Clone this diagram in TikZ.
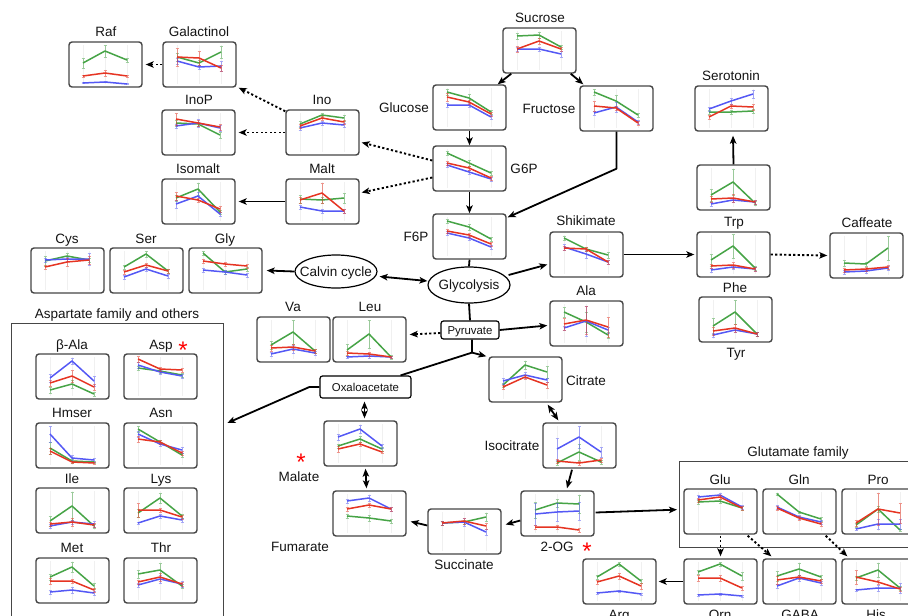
\documentclass[tikz,border=0pt]{standalone}
\usepackage{fontspec}
\setmainfont{Liberation Sans}
\usetikzlibrary{arrows.meta,shapes.geometric,calc}
\definecolor{gC}{RGB}{70,164,70}
\definecolor{rC}{RGB}{230,52,34}
\definecolor{bC}{RGB}{84,88,245}
\definecolor{frameC}{RGB}{70,70,70}
\definecolor{txtC}{RGB}{20,20,20}
\tikzset{
 pbx/.style={draw=frameC, line width=1.4pt, rounded corners=3pt, minimum width=73pt, minimum height=45pt, inner sep=0pt, fill=white},
 gridl/.style={draw=black!6, line width=0.8pt},
 serline/.style={line width=1.5pt, line join=round},
 errb/.style={line width=0.9pt, opacity=0.5},
 lbl/.style={font=\fontsize{13.5}{16}\selectfont, text=txtC, inner sep=0pt, text height=9.6pt, text depth=0pt},
 slbl/.style={font=\fontsize{11.4}{13}\selectfont, text=txtC, inner sep=0pt, text height=8.2pt, text depth=0pt},
 arr/.style={-{Stealth[length=8pt,width=6.5pt,inset=2pt]}, line width=1.8pt, black},
 darr/.style={{Stealth[length=8pt,width=6.5pt,inset=2pt]}-{Stealth[length=8pt,width=6.5pt,inset=2pt]}, line width=1.8pt, black},
 dotarr/.style={-{Stealth[length=8pt,width=6.5pt,inset=2pt]}, line width=1.9pt, black, dash pattern=on 2.2pt off 2.3pt},
 pl/.style={line width=1.8pt, black},
 ell/.style={lbl, ellipse, draw=black, line width=1.2pt, fill=white, inner xsep=-20pt, inner ysep=0pt},
 sbx/.style={slbl, draw=black, line width=1.2pt, rounded corners=2.5pt, fill=white},
 grp/.style={draw=frameC, line width=1.3pt, inner sep=0pt},
 ast/.style={text=red, font=\fontsize{24}{24}\selectfont, inner sep=0pt, anchor=base}
}
\newcommand\mplot[4]{%
  \node[pbx] (#1) at ({#2+36.5},{#3+22.5}) {};
  \begin{scope}[shift={(#2,#3)}]
    \foreach \gx in {14,36,58}{\draw[gridl] (\gx,3) -- (\gx,42);}
    #4
  \end{scope}}
\def\ser#1#2,#3,#4,#5,#6,#7;{%
  \draw[#1,errb] (14,#2-#3)--(14,#2+#3) (12.5,#2-#3)--(15.5,#2-#3) (12.5,#2+#3)--(15.5,#2+#3)
   (36,#4-#5)--(36,#4+#5) (34.5,#4-#5)--(37.5,#4-#5) (34.5,#4+#5)--(37.5,#4+#5)
   (58,#6-#7)--(58,#6+#7) (56.5,#6-#7)--(59.5,#6-#7) (56.5,#6+#7)--(59.5,#6+#7);
  \draw[#1,serline] (14,#2)--(36,#4)--(58,#6);}
\def\sG{\ser{gC}}
\def\sR{\ser{rC}}
\def\sB{\ser{bC}}
\begin{document}
\begin{tikzpicture}[x=1pt,y=-1pt]
\useasboundingbox (0,0) rectangle (908,616);
\fill[white] (0,0) rectangle (908,616);
% group boxes
\node[grp, minimum width=212pt, minimum height=307pt, anchor=north west] (aspgrp) at (11,323) {};
\node[grp, minimum width=246pt, minimum height=86pt, anchor=north west] (glugrp) at (679,461) {};
% plots
\mplot{raf}{69}{42}{\sG 21,5,9,6,18,2; \sB 41,0.5,40,0.5,42,0.5; \sR 34,1,31,3,34,1;}
\mplot{galactinol}{163}{42}{\sG 15,4,21,3,10,6; \sB 19,3,25,2,24,5; \sR 15,9,16,7,26,3;}
\mplot{inop}{162}{110}{\sG 13,3,14,2,25,3; \sB 16,2,13,4,18,3; \sR 9,6,13,3,17,3;}
\mplot{ino}{286}{110}{\sG 14,3,5,2,8,3; \sB 18,2,13,2,15,2; \sR 16,2,8,2,12,2;}
\mplot{isomalt}{162}{179}{\sG 19,3,10,6,33,2; \sB 25,4,17,4,35,2; \sR 17,4,21,2,30,3;}
\mplot{malt}{286}{179}{\sG 20,4,21,3,19,5; \sB 28,2,32,2,32,2; \sR 21,3,14,10,32,2;}
\mplot{sucrose}{503}{28}{\sG 8,3,7,3,19,2; \sB 21,2,21,2,26,3; \sR 21,3,13,3,21,2;}
\mplot{glucose}{433}{85}{\sG 7,3,13,4,27,2; \sB 20,2,20,2,32,2; \sR 12,4,17,2,29,2;}
\mplot{g6p}{433}{146}{\sG 7,2,17,3,27,2; \sB 19,2,26,2,33,2; \sR 17,2,22,2,32,2;}
\mplot{fructose}{580}{86}{\sG 6,3,15,6,29,2; \sB 27,2,21,5,36,2; \sR 20,5,22,2,37,2;}
\mplot{serotonin}{695}{86}{\sG 26,2,26,2,25,2; \sB 23,2,15,3,8,4; \sR 31,2,20,2,21,3;}
\mplot{trp}{697}{165}{\sG 30,6,17,13,38,2; \sB 39,2,35,2,37,2; \sR 34,3,33,4,37,2;}
\mplot{f6p}{433}{214}{\sG 7,2,13,3,25,2; \sB 19,2,24,2,33,2; \sR 17,2,21,2,30,2;}
\mplot{shikimate}{550}{232}{\sG 6,2,17,2,23,3; \sB 15,3,22,4,30,2; \sR 16,2,17,2,30,2;}
\mplot{phe}{697}{232}{\sG 28,6,14,12,36,2; \sB 38,2,35,2,37,2; \sR 34,2,33,3,37,2;}
\mplot{caffeate}{830}{233}{\sG 30,3,31,2,15,12; \sB 39,2,38,2,35,2; \sR 37,2,36,2,34,2;}
\mplot{ala}{550}{301}{\sG 11,5,21,10,34,3; \sB 27,2,20,15,29,3; \sR 23,6,19,14,26,10;}
\mplot{tyr}{699}{297}{\sG 29,8,15,12,37,2; \sB 38,2,33,2,37,2; \sR 34,4,31,4,37,2;}
\mplot{citrate}{489}{357}{\sG 28,2,8,4,15,6; \sB 24,3,18,3,23,2; \sR 30,2,20,2,28,3;}
\mplot{cys}{31}{248}{\sG 13,5,8,3,12,2; \sB 12,2,11,2,11,6; \sR 19,2,14,4,12,4;}
\mplot{ser}{110}{248}{\sG 19,2,6,3,23,2; \sB 29,2,21,2,28,2; \sR 24,2,17,2,23,2;}
\mplot{gly}{189}{248}{\sG 5,2,24,2,21,2; \sB 22,2,24,2,27,2; \sR 13,2,16,2,18,2;}
\mplot{va}{257}{317}{\sG 28,4,15,12,34,2; \sB 37,2,32,4,36,2; \sR 31,3,30,3,34,2;}
\mplot{leu}{333}{317}{\sG 33,6,17,14,40,2; \sB 40,1,39,2,40,1; \sR 36,2,37,2,40,1;}
\mplot{bala}{36}{354}{\sG 36,3,30,4,40,2; \sB 24,4,7,3,27,5; \sR 29,3,22,6,33,3;}
\mplot{asp}{124}{354}{\sG 14,2,17,2,21,2; \sB 11,3,18,2,22,2; \sR 5,3,15,2,16,2;}
\mplot{hmser}{36}{423}{\sG 25,6,38,2,39,1; \sB 11,8,35,3,37,2; \sR 28,3,39,1,40,1;}
\mplot{asn}{124}{423}{\sG 6,3,19,2,32,2; \sB 11,3,21,2,27,3; \sR 16,3,19,2,30,2;}
\mplot{ile}{36}{488}{\sG 33,5,18,14,38,2; \sB 38,2,34,2,36,3; \sR 36,2,34,4,37,2;}
\mplot{lys}{124}{488}{\sG 25,4,10,5,28,2; \sB 35,1,28,2,32,2; \sR 22,7,22,2,29,2;}
\mplot{met}{36}{558}{\sG 19,3,9,5,28,3; \sB 34,2,32,3,35,2; \sR 23,3,23,2,32,2;}
\mplot{thr}{124}{558}{\sG 16,4,12,7,28,2; \sB 27,2,21,4,26,3; \sR 24,2,19,4,26,2;}
\mplot{malate}{324}{421}{\sG 25,2,18,3,28,2; \sB 16,3,8,4,25,2; \sR 28,3,23,2,31,1;}
\mplot{fumarate}{333}{491}{\sG 25,2,27,3,30,2; \sB 10,2,7,3,18,2; \sR 18,2,14,2,18,2;}
\mplot{succinate}{428}{509}{\sG 14,2,13,2,8,4; \sB 14,2,13,4,23,3; \sR 14,2,12,3,17,3;}
\mplot{isocit}{543}{423}{\sG 40,2,29,8,39,2; \sB 26,11,14,11,29,5; \sR 38,2,40,2,37,2;}
\mplot{og}{521}{491}{\sG 19,8,12,4,13,9; \sB 23,11,21,9,20,9; \sR 36,2,36,2,39,2;}
\mplot{glu}{684}{489}{\sG 13,2,12,2,19,2; \sB 8,2,6,2,18,2; \sR 11,2,8,2,19,2;}
\mplot{gln}{763}{489}{\sG 5,1,23,1,30,2; \sB 18,2,28,2,33,2; \sR 19,2,29,2,35,2;}
\mplot{pro}{842}{489}{\sG 36,2,20,3,41,1; \sB 40,1,35,5,35,5; \sR 34,3,20,16,24,10;}
\mplot{arg}{583}{559}{\sG 18,2,5,2,22,2; \sB 34,1,32,1,35,1; \sR 23,2,17,3,27,3;}
\mplot{orn}{684}{559}{\sG 13,2,5,2,17,4; \sB 36,1,35,1,37,1; \sR 19,3,19,3,29,2;}
\mplot{gaba}{763}{559}{\sG 17,5,10,6,18,2; \sB 27,2,19,3,24,2; \sR 21,4,18,2,22,2;}
\mplot{his}{842}{559}{\sG 19,2,11,7,29,2; \sB 31,1,29,3,29,5; \sR 18,7,23,2,30,2;}
% hubs
\node[ell, minimum width=82pt, minimum height=33pt] (calvin) at (336,271.5) {Calvin cycle};
\node[ell, minimum width=82pt, minimum height=36pt] (glyc) at (469,285) {Glycolysis};
\node[sbx, minimum width=58pt, minimum height=18pt] (pyr) at (470,330) {Pyruvate};
\node[sbx, minimum width=91pt, minimum height=22pt] (oaa) at (365.5,387) {Oxaloacetate};
% labels
\node[lbl] (lRaf) at (106,32) {Raf};
\node[lbl] (lGal) at (199,32) {Galactinol};
\node[lbl] (lInoP) at (199,100) {InoP};
\node[lbl] (lIno) at (322,100) {Ino};
\node[lbl] (lIsomalt) at (198,169) {Isomalt};
\node[lbl] (lMalt) at (322,169) {Malt};
\node[lbl] (lSuc) at (540,18) {Sucrose};
\node[lbl] (lGlc) at (404,108) {Glucose};
\node[lbl] (lFru) at (549,109) {Fructose};
\node[lbl] (lG6P) at (524,169) {G6P};
\node[lbl] (lF6P) at (416,237) {F6P};
\node[lbl] (lSer5) at (731,76) {Serotonin};
\node[lbl] (lTrp) at (734,222) {Trp};
\node[lbl] (lShik) at (586,221) {Shikimate};
\node[lbl] (lCaf) at (867,223) {Caffeate};
\node[lbl] (lAla) at (586,291) {Ala};
\node[lbl] (lPhe) at (735,288) {Phe};
\node[lbl] (lTyr) at (736,353) {Tyr};
\node[lbl] (lCit) at (586,381) {Citrate};
\node[lbl] (lCys) at (67,239) {Cys};
\node[lbl] (lSer) at (146,239) {Ser};
\node[lbl] (lGly) at (225,239) {Gly};
\node[lbl] (lVa) at (293,307) {Va};
\node[lbl] (lLeu) at (370,307) {Leu};
\node[lbl] (lAspF) at (117,314) {Aspartate family and others};
\node[lbl] (lbAla) at (72,345) {β-Ala};
\node[lbl] (lAsp) at (161,345) {Asp};
\node[lbl] (lHmser) at (72,413) {Hmser};
\node[lbl] (lAsn) at (161,413) {Asn};
\node[lbl] (lIle) at (72,479) {Ile};
\node[lbl] (lLys) at (161,479) {Lys};
\node[lbl] (lMet) at (72,548) {Met};
\node[lbl] (lThr) at (161,548) {Thr};
\node[lbl] (lMal) at (299,477) {Malate};
\node[lbl] (lFum) at (300,547) {Fumarate};
\node[lbl] (lSucc) at (464,565) {Succinate};
\node[lbl] (lIso) at (512,446) {Isocitrate};
\node[lbl] (lOG) at (557,547) {2-OG};
\node[lbl] (lGluF) at (798,452) {Glutamate family};
\node[lbl] (lGlu) at (720,480) {Glu};
\node[lbl] (lGln) at (799,480) {Gln};
\node[lbl] (lPro) at (878,480) {Pro};
\node[lbl] (lArg) at (619,615) {Arg};
\node[lbl] (lOrn) at (720,615) {Orn};
\node[lbl] (lGABA) at (800,615) {GABA};
\node[lbl] (lHis) at (876,615) {His};
\node[ast] (aAsp) at (183,358) {*};
\node[ast] (aMal) at (301,470) {*};
\node[ast] (aOG) at (587,559) {*};
% connectors
\draw[arr] ([shift={(9,0)}]sucrose.south west) -- ([shift={(-9,0)}]glucose.north east);
\draw[arr] ([shift={(-6,0)}]sucrose.south east) -- ([shift={(4,-1)}]fructose.north west);
\draw[arr] (glucose.south) -- (g6p.north);
\draw[arr] (g6p.south) -- (f6p.north);
\coordinate (fbend) at ([shift={(0,37)}]fructose.south);
\draw[arr, line join=round] (fructose.south) -- (fbend) -- ([shift={(1,4)}]f6p.north east);
\draw[dotarr] ([shift={(0,-8)}]g6p.west) -- ([shift={(2,10)}]ino.east);
\draw[dotarr] ([shift={(0,9)}]g6p.west) -- ([shift={(2,-9)}]malt.east);
\draw[dotarr] (ino.west) -- ([shift={(3,0)}]inop.east);
\draw[dotarr] ([shift={(0,2)}]ino.north west) -- ([shift={(2,0)}]galactinol.south east);
\draw[dotarr] (galactinol.west) -- ([shift={(3,0)}]raf.east);
\draw[arr] (malt.west) -- ([shift={(3,0)}]isomalt.east);
\draw[pl] (f6p.south) -- (glyc.north);
\draw[darr] ([shift={(2,5)}]calvin.east) -- ([shift={(0,-4)}]glyc.west);
\draw[arr] (calvin.west) -- ([shift={(4,0)}]gly.east);
\draw[arr] ([shift={(-2,-10)}]glyc.east) -- ([shift={(-2,10)}]shikimate.west);
\draw[arr] (shikimate.east) -- ([shift={(-2,0)}]phe.west);
\draw[dotarr] (phe.east) -- ([shift={(-2,0)}]caffeate.west);
\draw[arr] (trp.north) -- ([shift={(1.5,4)}]serotonin.south);
\draw[pl] (glyc.south) -- (pyr.north);
\draw[arr] (pyr.east) -- ([shift={(-2,2)}]ala.west);
\draw[dotarr] ([shift={(0,3)}]pyr.west) -- ([shift={(3,-5)}]leu.east);
\coordinate (br) at ([shift={(2,13)}]pyr.south);
\draw[pl, line join=round] ([shift={(2,0)}]pyr.south) -- (br) -- ([shift={(-11,0)}]oaa.north east);
\draw[arr] (br) -- ([shift={(-2,0)}]citrate.north west);
\coordinate (oaabend) at ([shift={(-10,0)}]oaa.west);
\draw[arr, line join=round] (oaa.west) -- (oaabend) -- ([shift={(3,100)}]aspgrp.north east);
\draw[darr] ([shift={(-1,3)}]oaa.south) -- ([shift={(4,-2)}]malate.north);
\draw[darr] ([shift={(5,2)}]malate.south) -- ([shift={(-3,-2)}]fumarate.north);
\draw[arr] ([shift={(0,-6)}]succinate.west) -- ([shift={(4,8)}]fumarate.east);
\draw[arr] ([shift={(0,7)}]og.west) -- ([shift={(4,-7)}]succinate.east);
\draw[arr] ([shift={(-7.5,1)}]isocit.south) -- ([shift={(9.5,-2)}]og.north);
\draw[darr] ([shift={(-15,2)}]citrate.south east) -- ([shift={(16,-2)}]isocit.north west);
\draw[arr] ([shift={(1,-1)}]og.east) -- ([shift={(-2,5)}]glugrp.west);
\draw[dotarr] ([shift={(0,1)}]glu.south) -- ([shift={(0,-2)}]orn.north);
\draw[dotarr] ([shift={(-10,1)}]glu.south east) -- ([shift={(9,-2)}]gaba.north west);
\draw[dotarr] ([shift={(-11,1)}]gln.south east) -- ([shift={(6,-2)}]his.north west);
\draw[arr] (orn.west) -- ([shift={(2,0)}]arg.east);
\end{tikzpicture}
\end{document}
